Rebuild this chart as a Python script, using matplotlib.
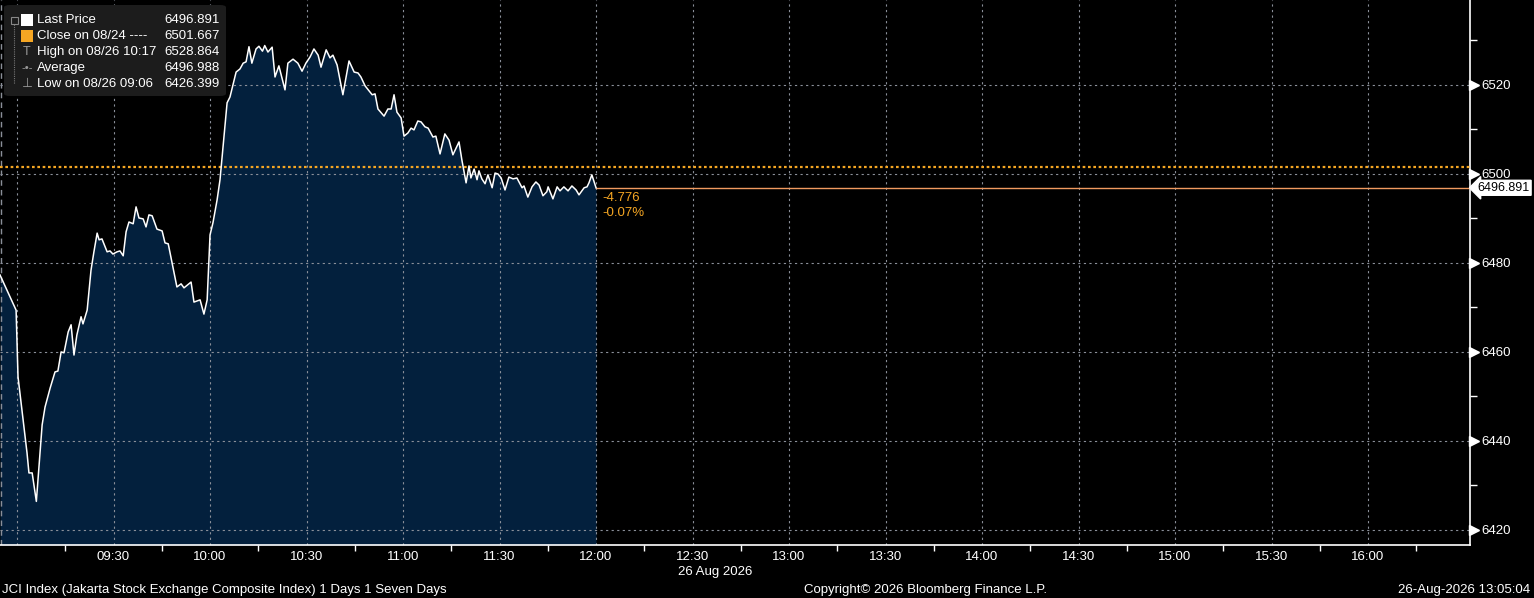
import matplotlib.pyplot as plt
import matplotlib.transforms as mtransforms
from matplotlib.patches import FancyBboxPatch, Rectangle
from matplotlib.ticker import FixedLocator, FuncFormatter

# minutes after 09:00 and JCI price
minutes = [-5.3, -0.3, 0.3, 3.1, 3.7, 4.7, 6.0, 7.8, 8.7, 10.3, 11.8, 12.7, 13.7, 14.6,
           15.9, 16.8, 17.7, 18.6, 19.9, 20.5, 21.8, 23.0, 23.9, 24.9, 25.5, 26.4, 28.0,
           28.9, 29.8, 31.1, 32.0, 33.0, 33.9, 34.8, 36.1, 37.0, 37.9, 39.2, 40.1, 41.0,
           42.0, 43.5, 45.1, 46.0, 47.0, 49.7, 51.0, 51.9, 54.1, 55.0, 56.9, 58.1, 59.1,
           60.0, 60.9, 62.2, 63.1, 65.3, 66.2, 68.1, 69.3, 70.3, 71.2, 72.1, 73.0, 74.3,
           75.2, 76.3, 77.0, 78.0, 79.3, 80.2, 81.4, 83.3, 84.2, 85.8, 87.3, 88.6, 89.8,
           91.1, 92.3, 93.6, 94.5, 96.1, 97.3, 98.2, 99.5, 101.3, 103.2, 104.8, 106.0,
           106.9, 108.2, 110.4, 111.3, 112.2, 114.1, 115.3, 116.3, 117.2, 118.1, 119.4,
           120.3, 121.5, 122.5, 123.4, 124.6, 125.6, 126.8, 127.8, 129.3, 130.2, 131.5,
           133.0, 134.3, 135.5, 137.4, 138.3, 139.6, 140.5, 141.1, 142.1, 143.0, 143.6,
           144.5, 145.5, 146.4, 147.7, 148.6, 149.5, 150.5, 151.7, 152.9, 154.2, 155.4,
           157.0, 157.6, 158.8, 160.1, 161.3, 162.3, 163.5, 164.7, 165.1, 166.6, 167.9,
           168.8, 170.0, 171.3, 172.5, 173.8, 174.7, 176.3, 177.2, 177.8, 178.7, 180.0]
prices = [6477.3, 6469.4, 6454.4, 6437.3, 6432.8, 6432.8, 6426.4, 6443.6, 6447.6, 6451.9,
          6455.5, 6455.7, 6460.0, 6459.8, 6464.5, 6466.1, 6459.3, 6463.8, 6467.9, 6466.3,
          6469.4, 6478.4, 6482.5, 6486.7, 6485.2, 6485.4, 6482.5, 6482.7, 6482.0, 6482.5,
          6482.7, 6481.6, 6487.0, 6489.2, 6488.8, 6492.6, 6490.1, 6489.9, 6488.1, 6490.8,
          6490.6, 6487.6, 6487.2, 6484.5, 6484.3, 6474.6, 6475.3, 6474.4, 6475.7, 6471.2,
          6471.7, 6468.5, 6471.7, 6486.3, 6489.0, 6494.2, 6498.7, 6516.0, 6517.3, 6522.9,
          6523.6, 6524.9, 6525.2, 6528.6, 6524.9, 6528.1, 6528.7, 6527.6, 6528.864, 6527.4,
          6528.5, 6521.8, 6524.3, 6518.9, 6524.9, 6525.8, 6524.9, 6523.1, 6524.9, 6526.3,
          6528.1, 6526.7, 6524.0, 6527.9, 6526.1, 6526.7, 6524.5, 6517.8, 6525.4, 6522.9,
          6522.7, 6521.8, 6519.8, 6517.8, 6518.0, 6514.6, 6513.0, 6514.6, 6514.6, 6517.8,
          6513.9, 6512.6, 6508.5, 6509.2, 6510.3, 6509.9, 6511.9, 6511.7, 6510.6, 6510.3,
          6508.3, 6508.5, 6504.5, 6509.0, 6507.6, 6504.3, 6507.2, 6503.1, 6498.0, 6501.8,
          6499.1, 6501.1, 6498.7, 6500.7, 6498.9, 6497.8, 6499.8, 6496.9, 6500.2, 6500.0,
          6499.1, 6496.4, 6499.3, 6498.9, 6499.1, 6496.9, 6497.3, 6494.8, 6497.1, 6498.2,
          6497.5, 6495.1, 6496.0, 6497.1, 6494.4, 6497.1, 6496.2, 6497.1, 6496.2, 6497.3,
          6496.4, 6495.3, 6496.9, 6497.1, 6498.0, 6499.8, 6496.891]

last_price = 6496.891
prev_close = 6501.667
change = '-4.776'
change_pct = '-0.07%'

y_ticks = [6420, 6440, 6460, 6480, 6500, 6520]
x_major = list(range(0, 421, 30))
x_minor = list(range(15, 451, 30))

legend_rows = [('Last Price', '6496.891'),
               ('Close on 08/24 ----', '6501.667'),
               ('High on 08/26 10:17', '6528.864'),
               ('Average', '6496.988'),
               ('Low on 08/26 09:06', '6426.399')]

plt.rcParams['font.family'] = ['Liberation Sans', 'DejaVu Sans']

W, H = 1534, 598
fig = plt.figure(figsize=(15.34, 5.98), dpi=100, facecolor='black')
ax = fig.add_axes([0.0, 53 / H, 1470 / W, 545 / H])
ax.set_facecolor('black')

ax.set_xlim(-5.3, 451.7)
ax.set_ylim(6416.6, 6539.1)

ax.fill_between(minutes, prices, 6416.6, color='#03203d', lw=0, zorder=1)
ax.plot(minutes, prices, color='white', lw=1.1, zorder=4)

grid_kw = dict(color='#8a8f99', lw=0.8, ls=(0, (2, 3)), zorder=2)
for yv in y_ticks:
    ax.axhline(yv, **grid_kw)
for xv in x_major:
    ax.axvline(xv, **grid_kw)
ax.axvline(-5.0, color='#8a8f99', lw=1.0, ls=(0, (4, 3)), zorder=2)

ax.axhline(prev_close, color='#f5a623', lw=1.6, ls=(0, (1.2, 1.2)), zorder=3)
ax.plot([minutes[-1], 451.7], [last_price, last_price], color='#f09a60', lw=1.0, zorder=3)

ax.text(minutes[-1] + 2, last_price - 2.3, change, color='#f5a623', fontsize=9.5,
        va='center', ha='left')
ax.text(minutes[-1] + 2, last_price - 5.7, change_pct, color='#f5a623', fontsize=9.5,
        va='center', ha='left')

# spines
for s in ['top', 'left']:
    ax.spines[s].set_visible(False)
ax.spines['right'].set_color('white')
ax.spines['bottom'].set_color('white')
ax.spines['right'].set_linewidth(1.2)
ax.spines['bottom'].set_linewidth(1.2)

ax.yaxis.tick_right()
ax.yaxis.set_major_locator(FixedLocator(y_ticks))
ax.yaxis.set_minor_locator(FixedLocator([v + 10 for v in y_ticks]))
ax.tick_params(axis='y', which='major', length=0, pad=8, colors='white', labelsize=9.5)
ax.tick_params(axis='y', which='minor', length=5, width=1, colors='white', direction='out')

tr = mtransforms.blended_transform_factory(ax.transAxes, ax.transData)
tri_tr = tr + mtransforms.ScaledTranslation(4 / 100, 0, fig.dpi_scale_trans)
ax.plot([1.0] * len(y_ticks), y_ticks, marker='>', ms=7, color='white', ls='none',
        transform=tri_tr, clip_on=False, zorder=5)

ax.xaxis.set_major_locator(FixedLocator(x_major))
ax.xaxis.set_minor_locator(FixedLocator(x_minor))
ax.xaxis.set_major_formatter(FuncFormatter(
    lambda m, pos: '' if m == 0 else '%02d:%02d' % (9 + int(m) // 60, int(m) % 60)))
ax.tick_params(axis='x', which='major', length=0, pad=4, colors='white', labelsize=9.5)
ax.tick_params(axis='x', which='minor', length=4, width=1, colors='white', direction='out')

ax.text(1.005, last_price, '6496.891', transform=tr, color='black', fontsize=9,
        va='center', ha='left', zorder=6,
        bbox=dict(boxstyle='larrow,pad=0.12', fc='white', ec='white'))

# date under x axis
fig.text(715 / W, 1 - 572 / H, '26 Aug 2026', color='white', fontsize=9.5,
         ha='center', va='center')

# footer
fig.text(2 / W, 1 - 590 / H, 'JCI Index (Jakarta Stock Exchange Composite Index) 1 Days 1 Seven Days',
         color='white', fontsize=9.5, ha='left', va='center')
fig.text(925 / W, 1 - 590 / H, 'Copyright\u00a9 2026 Bloomberg Finance L.P.',
         color='white', fontsize=9.5, ha='center', va='center')
fig.text(1530 / W, 1 - 590 / H, '26-Aug-2026 13:05:04',
         color='white', fontsize=9.5, ha='right', va='center')

# legend box
box = FancyBboxPatch((4 / W, 1 - 96 / H), 222 / W, 91 / H,
                     boxstyle='round,pad=0,rounding_size=0.004',
                     transform=fig.transFigure, fc='#1c1c1c', ec='none', zorder=10)
fig.patches.append(box)
row_y = [20, 36, 52, 68, 84]
fig.lines.append(plt.Line2D([14 / W, 14 / W], [1 - 22 / H, 1 - 84 / H], color='#777777',
                            lw=0.8, ls=(0, (1, 1)), transform=fig.transFigure, zorder=11))
fig.patches.append(Rectangle((11 / W, 1 - 24 / H), 7 / W, 7 / H, fc='#1c1c1c', ec='#888888',
                             lw=0.8, transform=fig.transFigure, zorder=12))
for i, (lbl, val) in enumerate(legend_rows):
    yy = 1 - row_y[i] / H
    fig.text(37 / W, yy, lbl, color='white', fontsize=9.5, ha='left', va='center', zorder=12)
    fig.text(220 / W, yy, val, color='white', fontsize=9.5, ha='right', va='center', zorder=12)
fig.patches.append(Rectangle((21 / W, 1 - 26 / H), 12 / W, 12 / H, fc='white', ec='none',
                             transform=fig.transFigure, zorder=12))
fig.patches.append(Rectangle((21 / W, 1 - 42 / H), 12 / W, 12 / H, fc='#f5a623', ec='none',
                             transform=fig.transFigure, zorder=12))
fig.text(27 / W, 1 - 52 / H, 'T', color='#999999', fontsize=9, ha='center', va='center', zorder=12)
fig.text(27 / W, 1 - 68 / H, '-\u2022-', color='#999999', fontsize=8, ha='center', va='center', zorder=12)
fig.text(27 / W, 1 - 84 / H, '\u22a5', color='#999999', fontsize=9, ha='center', va='center', zorder=12)

fig.savefig('out.png', dpi=100, facecolor='black')
